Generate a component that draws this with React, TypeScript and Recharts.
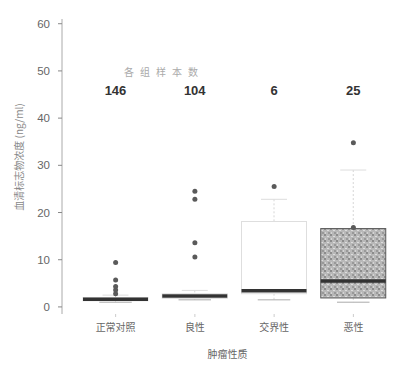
import React from 'react';
import { ComposedChart, Bar, Scatter, XAxis, YAxis, LabelList } from 'recharts';

// groups and per-group sample counts
const categories = ['正常对照', '良性', '交界性', '恶性'];
const counts = [146, 104, 6, 25];

// box-plot summary values (ng/ml)
const whiskerLow = [1.0, 1.5, 1.5, 1.0];
const q1 = [1.3, 1.8, 2.8, 1.9];
const median = [1.6, 2.3, 3.4, 5.5];
const q3 = [2.0, 2.8, 18.1, 16.6];
const whiskerHigh = [2.5, 3.5, 22.8, 29.0];
const outliers = [
  [2.8, 3.6, 4.3, 5.7, 9.4],
  [10.6, 13.6, 22.8, 24.5],
  [25.5],
  [16.8, 34.8],
];
const yTicks = [0, 10, 20, 30, 40, 50, 60];

const boxFills = ['#ffffff', '#ffffff', '#ffffff', 'url(#grain)'];
const boxStrokes = ['#e0e0e0', '#e0e0e0', '#dedede', '#5a5a5a'];

const PLOT_TOP = 19;
const CJK = '"Noto Sans CJK SC", "Liberation Sans", sans-serif';

const maxOutliers = Math.max(...outliers.map((o) => o.length));
const outlierKeys = Array.from({ length: maxOutliers }, (_, k) => `out${k}`);

const data = categories.map((name, i) => {
  const row: any = {
    name,
    range: [whiskerLow[i], whiskerHigh[i]],
    q1: q1[i],
    median: median[i],
    q3: q3[i],
    count: counts[i],
  };
  outlierKeys.forEach((key, k) => {
    row[key] = outliers[i][k] ?? null;
  });
  return row;
});

function BoxShape(props: any) {
  const { x, y, width, height, payload, index } = props;
  const [lo, hi] = payload.range;
  const top = Math.min(y, y + height);
  const h = Math.abs(height);
  const toY = (v: number) => top + ((hi - v) / (hi - lo)) * h;
  const cx = x + width / 2;
  const yQ1 = toY(payload.q1);
  const yQ3 = toY(payload.q3);
  const yMed = toY(payload.median);
  return (
    <g>
      <line x1={cx} x2={cx} y1={toY(hi)} y2={yQ3} stroke="#d6d6d6" strokeDasharray="2 2" />
      <line x1={cx} x2={cx} y1={yQ1} y2={toY(lo)} stroke="#d6d6d6" strokeDasharray="2 2" />
      <line x1={cx - width / 5} x2={cx + width / 5} y1={toY(hi)} y2={toY(hi)} stroke="#dddddd" />
      <line x1={cx - width / 4} x2={cx + width / 4} y1={toY(lo)} y2={toY(lo)} stroke="#aaaaaa" />
      <rect
        x={x}
        y={yQ3}
        width={width}
        height={Math.max(yQ1 - yQ3, 1)}
        fill={boxFills[index]}
        stroke={boxStrokes[index]}
      />
      <line x1={x} x2={x + width} y1={yMed} y2={yMed} stroke="#333" strokeWidth={3.5} />
    </g>
  );
}

function CountLabel(props: any) {
  const { x, width, value } = props;
  return (
    <text
      x={x + width / 2}
      y={PLOT_TOP + 73}
      textAnchor="middle"
      dominantBaseline="middle"
      fontFamily="Liberation Sans, Arial, sans-serif"
      fontSize={13}
      fontWeight="bold"
      fill="#333"
    >
      {value}
    </text>
  );
}

function makeDot(key: string) {
  return (props: any) => {
    const { cx, cy, payload } = props;
    if (!payload || payload[key] == null || !Number.isFinite(cx) || !Number.isFinite(cy)) return <g />;
    return <circle cx={cx} cy={cy} r={2.5} fill="#5a5a5a" />;
  };
}

function YTitle(props: any) {
  const { viewBox } = props;
  const x = 20;
  const y = viewBox.y + 138;
  return (
    <text
      x={x}
      y={y}
      transform={`rotate(-90, ${x}, ${y})`}
      textAnchor="middle"
      dominantBaseline="middle"
      fontFamily={CJK}
      fontSize={10}
      fill="#888"
    >
      血清标志物浓度 (ng/ml)
    </text>
  );
}

function XTick(props: any) {
  const { x, y, payload } = props;
  return (
    <text x={x} y={y + 12} textAnchor="middle" fontFamily={CJK} fontSize={10} fill="#666">
      {payload.value}
    </text>
  );
}

export default function App() {
  return (
    <div style={{ position: 'fixed', left: 0, top: 0, width: 403, height: 369, background: '#fff' }}>
      <div
        style={{
          position: 'absolute',
          left: 100,
          top: 64,
          width: 128,
          textAlign: 'center',
          fontFamily: CJK,
          fontSize: 10,
          color: '#aaa',
          letterSpacing: 6,
        }}
      >
        各组样本数
      </div>
      <ComposedChart
        width={403}
        height={369}
        data={data}
        margin={{ top: PLOT_TOP, right: 10, bottom: 15, left: 0 }}
      >
        <defs>
          <pattern id="grain" width="6" height="6" patternUnits="userSpaceOnUse">
            <rect width="6" height="6" fill="#b8b8b8" />
            <rect x="0" y="0" width="2" height="2" fill="#8c8c8c" />
            <rect x="3" y="2" width="2" height="1" fill="#dcdcdc" />
            <rect x="1" y="4" width="1" height="2" fill="#d4d4d4" />
            <rect x="4" y="4" width="2" height="2" fill="#999" />
          </pattern>
        </defs>
        <XAxis
          dataKey="name"
          type="category"
          axisLine={false}
          tickLine={{ stroke: '#ccc' }}
          tickSize={3}
          tick={<XTick />}
          height={40}
          padding={{ left: 14, right: 0 }}
          label={{
            value: '肿瘤性质',
            position: 'insideBottom',
            offset: -4,
            fontFamily: CJK,
            fontSize: 10,
            fill: '#666',
          }}
        />
        <YAxis
          type="number"
          domain={[-1.5, 61]}
          ticks={yTicks}
          width={62}
          axisLine={{ stroke: '#aaa' }}
          tickLine={{ stroke: '#888' }}
          tickSize={4}
          tickMargin={8}
          tick={{ fontFamily: 'Liberation Sans, Arial, sans-serif', fontSize: 11.5, fill: '#666' }}
          label={<YTitle />}
        />
        <Bar dataKey="range" barSize={65} shape={<BoxShape />} isAnimationActive={false}>
          <LabelList dataKey="count" content={<CountLabel />} />
        </Bar>
        {outlierKeys.map((key) => (
          <Scatter key={key} dataKey={key} shape={makeDot(key)} isAnimationActive={false} />
        ))}
      </ComposedChart>
    </div>
  );
}
